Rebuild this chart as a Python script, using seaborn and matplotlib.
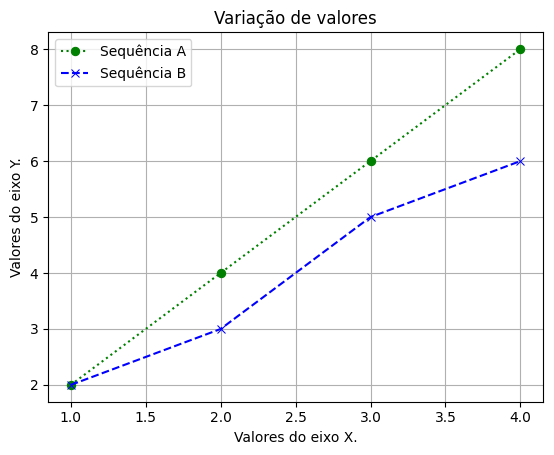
import matplotlib
matplotlib.use("Agg")
import matplotlib.pyplot as plt
import seaborn as sns
import pandas as pd

x_vals = [1, 2, 3, 4]
seq_a = [2, 4, 6, 8]
seq_b = [2, 3, 5, 6]

df_a = pd.DataFrame({"x": x_vals, "y": seq_a})
df_b = pd.DataFrame({"x": x_vals, "y": seq_b})

fig = plt.figure(figsize=(5.54, 4.55), dpi=100)
ax = fig.add_axes([0.087, 0.117, 0.893, 0.812])

sns.lineplot(data=df_a, x="x", y="y", ax=ax, color="green", linestyle=":",
             marker="o", markersize=6, markeredgecolor="green", label="Sequência A")
sns.lineplot(data=df_b, x="x", y="y", ax=ax, color="blue", linestyle="--",
             marker="x", markersize=6, markeredgecolor="blue", label="Sequência B")

ax.set_title("Variação de valores")
ax.set_xlabel("Valores do eixo X.")
ax.set_ylabel("Valores do eixo Y.")
ax.grid(True)
ax.legend(loc="upper left")

fig.savefig("out.png", dpi=100)
